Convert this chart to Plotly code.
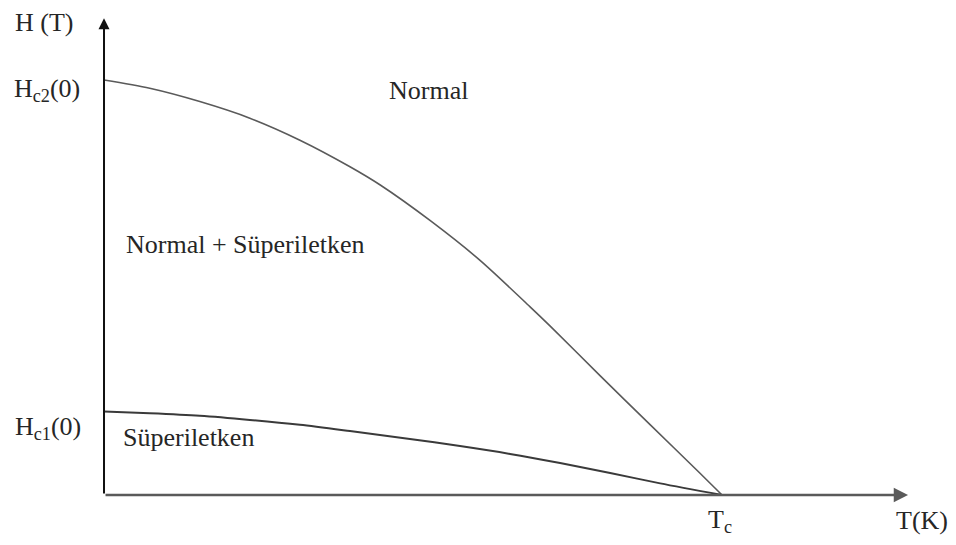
import plotly.graph_objects as go

# Reduced temperature T/Tc and reduced field H/Hc2(0)
t_hc2 = [0.0, 0.074, 0.155, 0.236, 0.317, 0.398, 0.447, 0.528, 0.608,
         0.689, 0.722, 0.803, 0.884, 0.964, 1.0]
h_hc2 = [1.0, 0.980, 0.948, 0.908, 0.855, 0.791, 0.747, 0.661, 0.566,
         0.454, 0.407, 0.287, 0.169, 0.053, 0.0]

t_hc1 = [0.0, 0.074, 0.155, 0.236, 0.317, 0.398, 0.495, 0.576, 0.657,
         0.738, 0.819, 0.900, 1.0]
h_hc1 = [0.201, 0.197, 0.191, 0.181, 0.169, 0.154, 0.135, 0.118, 0.099,
         0.077, 0.053, 0.028, 0.0]

W, H = 956, 545
x_range = [-0.1683, 1.3786]
y_range = [-0.1205, 1.1928]

FONT = "Liberation Serif, Times New Roman, serif"
TXT = "#262626"


def px(x, y):
    """Pixel position -> paper coordinates."""
    return x / W, 1 - y / H


fig = go.Figure()

fig.add_trace(go.Scatter(x=t_hc2, y=h_hc2, mode="lines",
                         line=dict(color="#5a5a5a", width=1.6, shape="spline", smoothing=0.8),
                         hoverinfo="skip", showlegend=False))
fig.add_trace(go.Scatter(x=t_hc1, y=h_hc1, mode="lines",
                         line=dict(color="#3a3a3a", width=2, shape="spline", smoothing=0.8),
                         hoverinfo="skip", showlegend=False))

annotations = []

# Axis arrows
annotations.append(dict(x=1.301, y=0, ax=0, ay=0, xref="x", yref="y", axref="x", ayref="y",
                        showarrow=True, arrowhead=2, arrowsize=1.1, arrowwidth=2.6,
                        arrowcolor="#5a5a5a", text=""))
annotations.append(dict(x=0, y=1.149, ax=0, ay=0, xref="x", yref="y", axref="x", ayref="y",
                        showarrow=True, arrowhead=2, arrowsize=1.1, arrowwidth=2,
                        arrowcolor="#111111", text=""))

labels = [
    ("H (T)", 44, 22),
    ("H<sub>c2</sub>(0)", 47, 90),
    ("Normal", 428, 90),
    ("Normal + Süperiletken", 246, 244),
    ("H<sub>c1</sub>(0)", 48, 428),
    ("Süperiletken", 188, 437),
    ("T<sub>c</sub>", 720, 521),
    ("T(K)", 922, 520),
]
for text, lx, ly in labels:
    xp, yp = px(lx, ly)
    annotations.append(dict(x=xp, y=yp, xref="paper", yref="paper", text=text,
                            showarrow=False, xanchor="center", yanchor="middle",
                            font=dict(family=FONT, size=26, color=TXT)))

fig.update_layout(
    width=W, height=H,
    margin=dict(l=0, r=0, t=0, b=0),
    paper_bgcolor="white", plot_bgcolor="white",
    xaxis=dict(range=x_range, visible=False, fixedrange=True),
    yaxis=dict(range=y_range, visible=False, fixedrange=True),
    annotations=annotations,
    showlegend=False,
)

fig.write_html("out.html")
